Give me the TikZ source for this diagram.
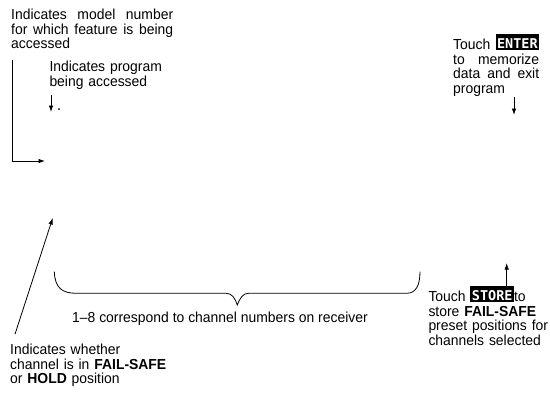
\documentclass[tikz,border=0pt]{standalone}
\usepackage{fontspec}
\setmainfont{Liberation Sans}[FakeStretch=0.96]
\newfontfamily\keyfont{DejaVu Sans Mono}
\usepackage{tikz}
\usetikzlibrary{arrows.meta,positioning}
\newcommand\keycap[1]{\raisebox{1.5pt}{\setlength{\fboxsep}{1.5pt}\colorbox{black}{\rule{0pt}{12.5pt}\textcolor{white}{\keyfont\bfseries\fontsize{13.5}{13.5}\selectfont #1}}}}
\tikzset{
  note/.style     ={anchor=base west,inner sep=0pt,align=left,text width=#1},
  note/.default   =120pt,
  justnote/.style ={anchor=base west,inner sep=0pt,align=justify,text width=#1},
  justnote/.default=120pt,
  pointer/.style  ={-{Latex[length=6.5pt,width=4.5pt]},line width=0.8pt},
  brace/.style    ={line width=0.8pt}
}

\begin{document}
\begin{tikzpicture}[x=1pt,y=-1pt, every node/.style={font=\fontsize{14.5}{14.7}\selectfont}]
    \useasboundingbox (0,0) rectangle (550,392);
    \node[justnote=162pt] (modelnote) at (11,19.5)  {Indicates model number\linebreak for which feature is being\linebreak accessed};
    \node[note=120pt]     (prognote)  at (49.3,71.5) {Indicates program\\being accessed};
    \node[justnote=86pt]  (enternote) at (453,49.5) {Touch \keycap{ENTER}\linebreak to memorize\linebreak data and exit\linebreak program};
    \node[note=125pt]     (storenote) at (428.3,301.5) {Touch \keycap{STORE}to\\store \textbf{FAIL-SAFE}\\preset positions for\\channels selected};
    \node[note=170pt]     (holdnote)  at (10,354.5) {Indicates whether\\channel is in \textbf{FAIL-SAFE}\\or \textbf{HOLD} position};
    \node[anchor=base west,inner sep=0pt] (rangelabel) at (72,322) {1--8 correspond to channel numbers on receiver};
    \node[circle,fill,inner sep=0pt,minimum size=2pt] (progdot) at (59,109) {};
    \coordinate (modeltip) at (45,161);
    \coordinate (progtip)  at (51,112);
    \coordinate (entertip) at (514,115);
    \coordinate (storetip) at (506.7,263);
    \coordinate (holdtip)  at (52.7,218);
    \draw[pointer] ([xshift=1.3pt,yshift=-11pt]modelnote.south west) |- (modeltip);
    \draw[pointer] ([xshift=1.7pt,yshift=-6pt]prognote.south west) -- (progtip);
    \draw[pointer] ([xshift=61pt]enternote.south west) -- (entertip);
    \draw[pointer] ([xshift=78.4pt]storenote.north west) -- (storetip);
    \draw[pointer] ([xshift=5pt,yshift=9.6pt]holdnote.north west) -- (holdtip);
    \draw[brace] (54.3,271.7) .. controls (55,288) and (62,293.3) .. (76.7,293.3)
      -- (226,293.3) .. controls (232,293.3) and (235,298) .. (237.3,305)
      .. controls (240,298) and (243,293.3) .. (248.5,293.3)
      -- (406.7,293.3) .. controls (416,293.3) and (420,285) .. (420,271.7);
\end{tikzpicture}
\end{document}
